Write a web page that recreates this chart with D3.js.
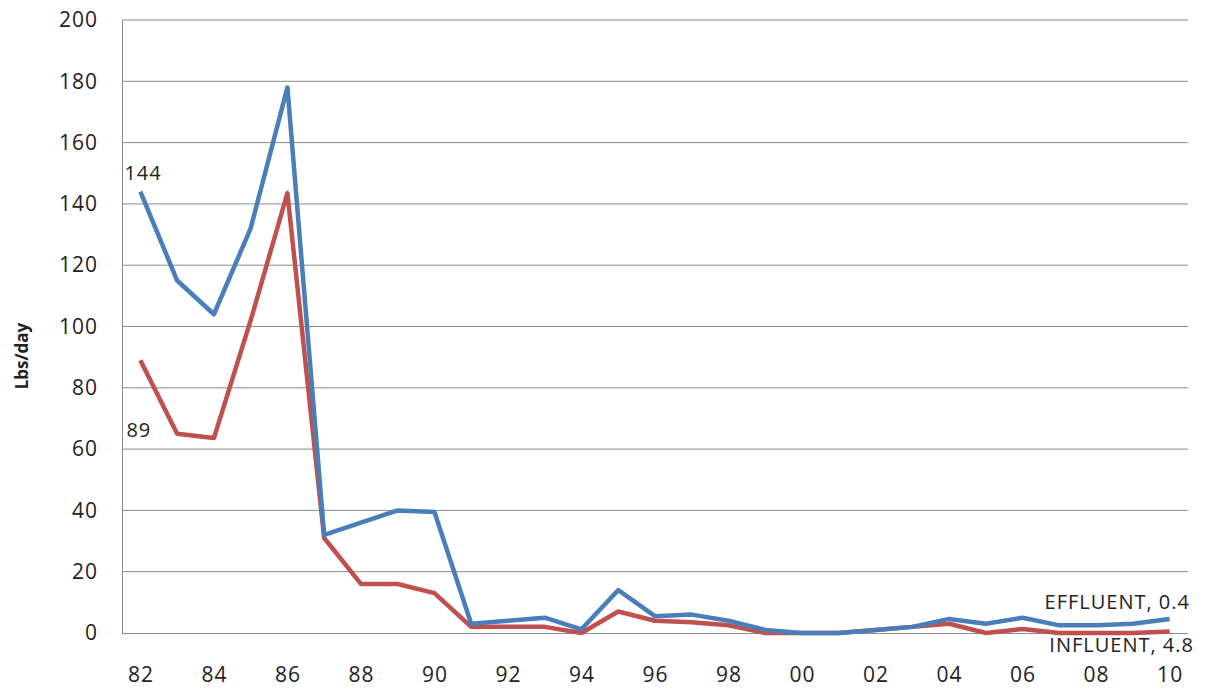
<!DOCTYPE html>
<html><head><meta charset="utf-8">
<script src="https://cdn.jsdelivr.net/npm/d3@7"></script>
<style>body{margin:0;background:#fff;}text{font-family:"Open Sans",sans-serif;fill:#222;}</style>
</head><body>
<svg id="c" width="1208" height="694"></svg>
<script>
const years = ["82","83","84","85","86","87","88","89","90","91","92","93","94","95","96","97","98","99","00","01","02","03","04","05","06","07","08","09","10"];
const blueSeries = [144,115,104,132,178,32,36,40,39.5,3,4,5,1.2,14,5.5,6,4,1,0,0,1,2,4.6,3,5,2.5,2.5,3,4.6];
const redSeries  = [89,65,63.6,102,143.5,31,16,16,13,2,2,2,0,7,4,3.5,2.5,0,0,0,1,2,3,0,1.3,0,0,0,0.5];
const yTicks = [0,20,40,60,80,100,120,140,160,180,200];
const xTickLabels = years.filter((d,i)=>i%2===0);

const svg = d3.select("#c");
const m = {l:122, r:1188, t:20, b:633};
const x = d3.scalePoint().domain(years).range([m.l, m.r]).padding(0.5);
const y = d3.scaleLinear().domain([0,200]).range([m.b, m.t]);

// gridlines
svg.append("g").selectAll("line").data(yTicks.filter(d=>d>0)).join("line")
  .attr("x1", m.l).attr("x2", m.r).attr("y1", d=>y(d)).attr("y2", d=>y(d))
  .attr("stroke", "#8a8a8a").attr("stroke-width", 1);

// y axis
const ya = svg.append("g").attr("transform", `translate(${m.l},0)`)
  .call(d3.axisLeft(y).tickValues(yTicks).tickSize(0).tickPadding(24));
ya.select(".domain").attr("stroke", "#8a8a8a");
ya.selectAll("text").style("font-size","21px").style("letter-spacing","1px").attr("fill","#222");

// x axis
const xa = svg.append("g").attr("transform", `translate(0,${m.b})`)
  .call(d3.axisBottom(x).tickValues(xTickLabels).tickSize(0).tickPadding(34));
xa.select(".domain").attr("stroke", "#8a8a8a").attr("d", `M${m.l},0.5H${m.r}`);
xa.selectAll("text").style("font-size","21px").style("letter-spacing","1px").attr("fill","#222");

// lines
const line = d3.line().x((d,i)=>x(years[i])).y(d=>y(d));
svg.append("path").datum(redSeries).attr("d", line).attr("fill","none")
  .attr("stroke","#C0504D").attr("stroke-width",4.5).attr("stroke-linejoin","round");
svg.append("path").datum(blueSeries).attr("d", line).attr("fill","none")
  .attr("stroke","#4A7EBB").attr("stroke-width",4.5).attr("stroke-linejoin","round");

// labels
const lab = (t, xx, yy, anchor) => svg.append("text").attr("x",xx).attr("y",yy)
  .attr("text-anchor",anchor).style("font-size","20px").style("letter-spacing","1px").text(t);
lab(blueSeries[0].toFixed(0), x(years[0]) - 16, y(blueSeries[0]) - 12, "start");
lab(redSeries[0].toFixed(0), x(years[0]) - 14, y(redSeries[0]) + 77, "start");
lab("EFFLUENT, 0.4", m.r + 2, y(blueSeries[28]) - 10, "end");
lab("INFLUENT, 4.8", m.r + 6, y(redSeries[28]) + 21, "end");

// y title
svg.append("text").attr("transform","translate(28,356) rotate(-90)").attr("text-anchor","middle")
  .style("font-size","17px").style("font-weight","bold").attr("fill","#111").text("Lbs/day");
</script>
</body></html>
